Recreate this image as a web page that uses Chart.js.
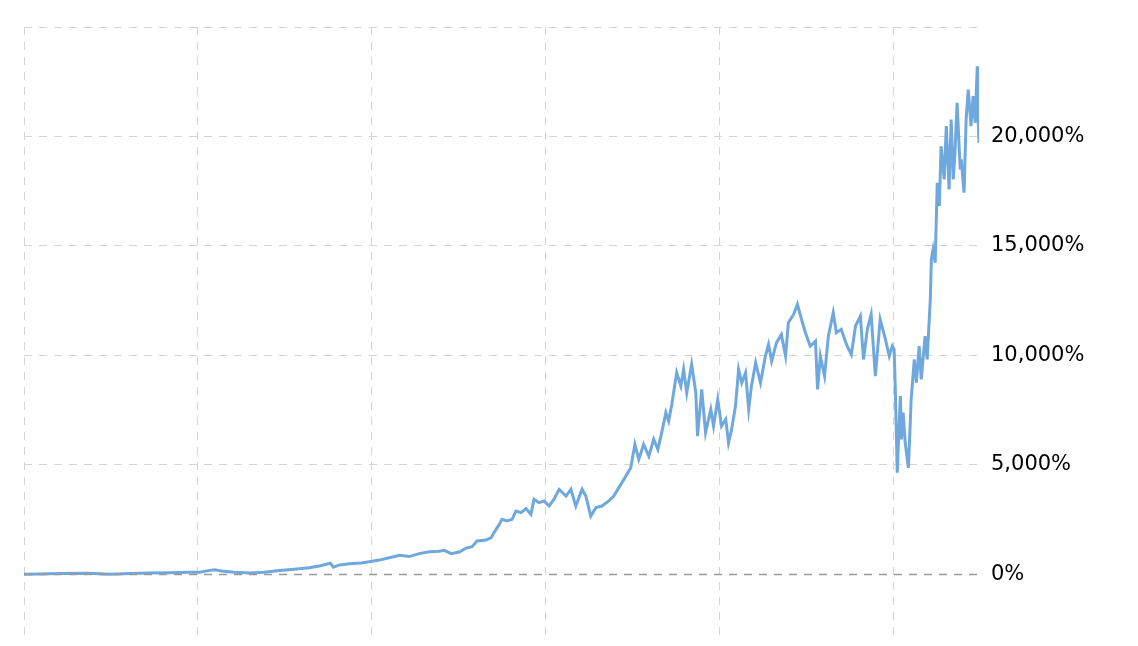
<!DOCTYPE html>
<html>
<head>
<meta charset="utf-8">
<script src="https://cdn.jsdelivr.net/npm/chart.js@4"></script>
<style>
  body { margin: 0; background: #fff; }
  canvas { display: block; }
</style>
</head>
<body>
<canvas id="returnChart" width="1138" height="646"></canvas>
<script>
// dates as decimal years
var years = [
    1995.00, 1995.46, 1996.03, 1996.81, 1997.18, 1997.47, 1998.04, 1998.61, 1999.19, 1999.76,
    2000.05, 2000.34, 2000.48, 2000.68, 2001.05, 2001.48, 2001.91, 2002.34, 2002.77, 2003.20,
    2003.49, 2003.72, 2003.81, 2003.89, 2004.07, 2004.35, 2004.70, 2005.01,
    2005.21, 2005.50, 2005.79, 2006.07, 2006.36, 2006.65, 2006.93, 2007.08, 2007.28, 2007.51,
    2007.71, 2007.88, 2008.02, 2008.28, 2008.43, 2008.51, 2008.66, 2008.74, 2008.88, 2009.03,
    2009.14, 2009.29, 2009.43, 2009.57, 2009.66, 2009.80, 2009.95, 2010.09, 2010.23,
    2010.38, 2010.58, 2010.72, 2010.86, 2011.04, 2011.15, 2011.29, 2011.44, 2011.61, 2011.81,
    2011.95, 2012.10, 2012.30, 2012.44, 2012.56, 2012.67, 2012.81, 2012.96, 2013.10, 2013.22,
    2013.33, 2013.45, 2013.53, 2013.62, 2013.76, 2013.88, 2013.96, 2014.05, 2014.19, 2014.31,
    2014.36, 2014.48, 2014.59, 2014.74, 2014.82, 2014.94, 2015.05, 2015.17, 2015.25, 2015.34,
    2015.45,
    2015.54, 2015.63, 2015.74, 2015.83, 2015.91, 2016.03, 2016.17, 2016.31, 2016.40, 2016.49,
    2016.63, 2016.77, 2016.89, 2016.97, 2017.12, 2017.23, 2017.35, 2017.46, 2017.60, 2017.75,
    2017.81, 2017.89, 2018.01, 2018.12, 2018.26, 2018.35, 2018.49, 2018.64, 2018.78, 2018.90,
    2019.04, 2019.13, 2019.24, 2019.35, 2019.47, 2019.61, 2019.76, 2019.87, 2019.96,
    2020.01, 2020.04, 2020.07, 2020.10, 2020.19, 2020.22, 2020.27, 2020.33, 2020.42, 2020.47,
    2020.50, 2020.59, 2020.65, 2020.73, 2020.79, 2020.90, 2020.96, 2021.05, 2021.08, 2021.13,
    2021.19, 2021.25, 2021.31, 2021.36, 2021.45, 2021.51, 2021.59, 2021.65, 2021.71, 2021.76,
    2021.82, 2021.91, 2021.94, 2022.02, 2022.08, 2022.14, 2022.22, 2022.28, 2022.34, 2022.40,
    2022.42, 2022.45
];

// cumulative return in percent
var returns = [
    0, 20, 40, 50, 30, 0, 40, 60, 70, 90,
    100, 180, 210, 150, 100, 60, 90, 170, 230, 300,
    380, 470, 510, 330, 430, 480, 520, 600,
    650, 760, 870, 810, 945, 1035, 1050, 1095, 945, 1020,
    1200, 1265, 1520, 1565, 1675, 1905, 2280, 2510, 2435, 2510,
    2890, 2815, 3000, 2740, 3425, 3275, 3350, 3120, 3425,
    3880, 3575, 3880, 3120, 3880, 3575, 2660, 3045, 3120, 3350,
    3575, 3960, 4490, 4870, 5935, 5250, 5935, 5400, 6165, 5710,
    6470, 7385, 7000, 7760, 9210, 8600, 9360, 8295, 9590, 8295,
    6315, 8450, 6470, 7535, 6770, 7990, 6770, 7080, 6010, 6620,
    7685,
    9360, 8750, 9210, 7535, 8600, 9665, 8750, 9970, 10500, 9740,
    10580, 10960, 9970, 11490, 11870, 12330, 11640, 11035, 10425, 10650,
    8450, 9970, 9055, 10880, 11950, 11035, 11190, 10500, 10045, 11340,
    11795, 9820, 11190, 11870, 9055, 11640, 10730, 9970, 10425,
    10275, 8750, 6770, 4640, 8140, 6165, 7385, 6010, 4870, 6770,
    7990, 9820, 8750, 10425, 8900, 10880, 9820, 12555, 14380, 14840,
    14230, 17885, 16815, 19555, 18035, 20470, 17580, 20775, 18035, 19255,
    21540, 18490, 18950, 17430, 20775, 22145, 20470, 21845, 20625, 23210,
    21080, 19710
];

var xGridYears = [1995, 2000, 2005, 2010, 2015, 2020];
var yTicks = [0, 5000, 10000, 15000, 20000, 25000];

var points = years.map(function (yr, i) {
    return { x: yr, y: returns[i] };
});

// zero line sits above the series in the original
var zeroLine = {
    id: 'zeroLine',
    afterDatasetsDraw: function (chart) {
        var ctx = chart.ctx;
        var area = chart.chartArea;
        var y = Math.round(chart.scales.y.getPixelForValue(0)) + 0.5;
        ctx.save();
        ctx.strokeStyle = '#999999';
        ctx.lineWidth = 1.5;
        ctx.setLineDash([8, 7]);
        ctx.beginPath();
        ctx.moveTo(area.left, y);
        ctx.lineTo(area.right, y);
        ctx.stroke();
        ctx.restore();
    }
};

var ctx = document.getElementById('returnChart').getContext('2d');
new Chart(ctx, {
    type: 'line',
    data: {
        datasets: [{
            data: points,
            borderColor: '#6fa8dc',
            borderWidth: 3,
            pointRadius: 0,
            tension: 0,
            fill: false
        }]
    },
    options: {
        responsive: false,
        animation: false,
        layout: { padding: { left: 24, top: 27, right: 0, bottom: 6 } },
        plugins: {
            legend: { display: false },
            tooltip: { enabled: false }
        },
        scales: {
            x: {
                type: 'linear',
                min: 1995,
                max: 2022.45,
                afterBuildTicks: function (scale) {
                    scale.ticks = xGridYears.map(function (v) { return { value: v }; });
                },
                afterFit: function (scale) {
                    scale.height = 0;
                    scale.paddingLeft = 0;
                    scale.paddingRight = 0;
                },
                ticks: { display: false },
                grid: {
                    color: '#d4d4d4',
                    lineWidth: 1,
                    drawTicks: false
                },
                border: { display: false, dash: [8, 7] }
            },
            y: {
                position: 'right',
                min: -3000,
                max: 25000,
                afterBuildTicks: function (scale) {
                    scale.ticks = yTicks.map(function (v) { return { value: v }; });
                },
                afterFit: function (scale) {
                    scale.width = 159;
                    scale.paddingTop = 0;
                    scale.paddingBottom = 0;
                },
                ticks: {
                    padding: 12,
                    color: '#000',
                    font: { family: 'DejaVu Sans', size: 21 },
                    callback: function (v) {
                        if (v === 25000) return '';
                        return v.toLocaleString('en-US') + '%';
                    }
                },
                grid: {
                    color: '#d4d4d4',
                    lineWidth: 1,
                    drawTicks: false
                },
                border: { display: false, dash: [8, 7] }
            }
        }
    },
    plugins: [zeroLine]
});
</script>
</body>
</html>
